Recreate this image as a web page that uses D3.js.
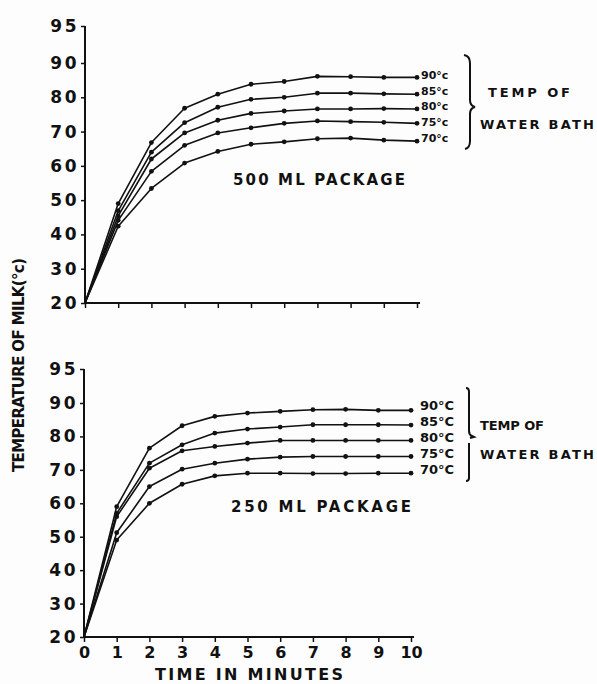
<!DOCTYPE html>
<html>
<head>
<meta charset="utf-8">
<script src="https://cdn.jsdelivr.net/npm/d3@7/dist/d3.min.js"></script>
<style>
  html, body { margin: 0; padding: 0; background: #fdfdfd; }
  svg { display: block; }
  text { font-family: "DejaVu Sans", sans-serif; font-weight: bold; fill: #111; }
</style>
</head>
<body>
<svg id="chart" width="597" height="684"></svg>
<script>
// Time axis (minutes) and y tick values
const minutes = [0, 1, 2, 3, 4, 5, 6, 7, 8, 9, 10];
const yTicks = [20, 30, 40, 50, 60, 70, 80, 90, 95];
const bathTemps = [90, 85, 80, 75, 70];

// Milk temperature (°C), 500 ml package, one array per water-bath temperature
const pkg500_90 = [20, 49.0, 66.8, 76.8, 80.9, 83.8, 84.6, 86.1, 86.0, 85.8, 85.8];
const pkg500_85 = [20, 46.9, 64.0, 72.6, 77.1, 79.4, 80.0, 81.2, 81.2, 81.0, 80.9];
const pkg500_80 = [20, 45.4, 62.0, 69.6, 73.3, 75.3, 76.0, 76.6, 76.6, 76.7, 76.6];
const pkg500_75 = [20, 44.1, 58.4, 66.0, 69.6, 71.1, 72.4, 73.1, 72.9, 72.7, 72.4];
const pkg500_70 = [20, 42.4, 53.4, 60.8, 64.2, 66.3, 67.0, 67.9, 68.1, 67.5, 67.2];

// Milk temperature (°C), 250 ml package
const pkg250_90 = [20, 59.0, 76.5, 83.2, 86.0, 87.0, 87.5, 88.0, 88.1, 87.8, 87.8];
const pkg250_85 = [20, 57.0, 72.0, 77.5, 81.0, 82.2, 82.8, 83.5, 83.5, 83.5, 83.4];
const pkg250_80 = [20, 56.0, 70.5, 75.7, 77.0, 78.0, 78.8, 78.8, 78.8, 78.8, 78.8];
const pkg250_75 = [20, 51.2, 65.0, 70.2, 72.0, 73.2, 73.8, 74.0, 74.0, 74.0, 74.0];
const pkg250_70 = [20, 49.0, 60.0, 65.7, 68.2, 69.0, 69.0, 68.9, 68.9, 69.0, 69.0];

const svg = d3.select("#chart");

function panel(cfg) {
  const x = d3.scaleLinear().domain([0, 10]).range([cfg.x0, cfg.x1]);
  // the top tick (95) sits one full step above 90 on the drawn axis
  const y = d3.scaleLinear().domain([20, 90, 95]).range([cfg.yBottom, cfg.y90, cfg.yTop]);
  const g = svg.append("g");

  // y axis
  const yAxis = d3.axisLeft(y).tickValues(yTicks).tickSize(4).tickFormat(d3.format("d"));
  const ya = g.append("g").attr("transform", `translate(${cfg.x0},0)`).call(yAxis);
  ya.select(".domain").attr("stroke", "#111").attr("stroke-width", 2).attr("d", `M0,${cfg.yTop}V${cfg.yBottom}`);
  ya.selectAll(".tick line").attr("stroke", "#111").attr("stroke-width", 1.5);
  ya.selectAll(".tick text")
    .attr("x", -6).attr("dy", "0.32em")
    .style("font-size", "17px").style("letter-spacing", "2.5px")
    .attr("fill", "#111");

  // x axis
  const xAxis = d3.axisBottom(x).tickValues(minutes).tickSize(5)
    .tickFormat(cfg.showXLabels ? d3.format("d") : "");
  const xa = g.append("g").attr("transform", `translate(0,${cfg.yBottom})`).call(xAxis);
  xa.select(".domain").attr("stroke", "#111").attr("stroke-width", 2).attr("d", `M${cfg.x0},0H${cfg.x1 + 3}`);
  xa.selectAll(".tick line").attr("stroke", "#111").attr("stroke-width", 1.5);
  xa.selectAll(".tick text").attr("y", 9).attr("dy", "0.75em")
    .style("font-size", "16px").attr("fill", "#111");

  // curves
  const line = d3.line().x((d, i) => x(minutes[i])).y(d => y(d));
  cfg.series.forEach(s => {
    g.append("path").attr("d", line(s)).attr("fill", "none")
      .attr("stroke", "#111").attr("stroke-width", 1.6).attr("stroke-linejoin", "round");
    g.selectAll(null).data(s.slice(1)).enter().append("circle")
      .attr("cx", (d, i) => x(minutes[i + 1])).attr("cy", d => y(d))
      .attr("r", 2.4).attr("fill", "#111");
  });

  // bath temperature labels at the line ends
  bathTemps.forEach((t, i) => {
    g.append("text").attr("x", cfg.labelX).attr("y", cfg.labelY0 + i * cfg.labelStep)
      .attr("dy", "0.35em").style("font-size", cfg.labelSize + "px")
      .text(t + "°" + cfg.unit);
  });

  // bracket
  g.append("path").attr("d", cfg.bracket).attr("fill", "none")
    .attr("stroke", "#111").attr("stroke-width", 2);

  g.append("text").attr("x", cfg.tempX).attr("y", cfg.tempY).attr("dy", "0.35em")
    .style("font-size", "13px").attr("textLength", cfg.tempLen).attr("lengthAdjust", "spacing")
    .text("TEMP OF");
  g.append("text").attr("x", 480).attr("y", cfg.waterY).attr("dy", "0.35em")
    .style("font-size", "13px").attr("textLength", 114).attr("lengthAdjust", "spacing")
    .text("WATER BATH");

  g.append("text").attr("x", cfg.titleX).attr("y", cfg.titleY).attr("dy", "0.35em")
    .style("font-size", "15px").attr("textLength", cfg.titleLen).attr("lengthAdjust", "spacing")
    .text(cfg.title);
}

panel({
  x0: 85, x1: 417, yBottom: 303, y90: 63, yTop: 26, showXLabels: false,
  series: [pkg500_90, pkg500_85, pkg500_80, pkg500_75, pkg500_70],
  labelX: 421, labelY0: 75, labelStep: 15.7, labelSize: 11, unit: "c",
  bracket: "M464,55 Q470,56 470,63 L470,100 Q470,106 475,107 Q470,108 470,114 L470,141 Q470,148 465,149",
  tempX: 488, tempY: 92, tempLen: 82, waterY: 124,
  title: "500 ML PACKAGE", titleX: 233, titleY: 180, titleLen: 172
});

panel({
  x0: 84, x1: 411, yBottom: 637, y90: 403, yTop: 369, showXLabels: true,
  series: [pkg250_90, pkg250_85, pkg250_80, pkg250_75, pkg250_70],
  labelX: 420, labelY0: 405, labelStep: 16, labelSize: 13, unit: "C",
  bracket: "M466,388 Q469,388 469,392 L469,431 Q469,435 472,436 M470,438 L474,437 L470,435 M469,443 L469,478 Q469,481 466,481",
  tempX: 480, tempY: 425, tempLen: 64, waterY: 454,
  title: "250 ML PACKAGE", titleX: 231, titleY: 507, titleLen: 180
});

// shared axis titles
svg.append("text")
  .attr("transform", "translate(19,365) rotate(-90)")
  .attr("text-anchor", "middle").attr("dy", "0.35em")
  .style("font-size", "15px").attr("textLength", 214).attr("lengthAdjust", "spacing")
  .text("TEMPERATURE OF MILK(°c)");

svg.append("text")
  .attr("x", 155).attr("y", 674).attr("dy", "0.35em")
  .style("font-size", "16px").attr("textLength", 188).attr("lengthAdjust", "spacing")
  .text("TIME IN MINUTES");
</script>
</body>
</html>
